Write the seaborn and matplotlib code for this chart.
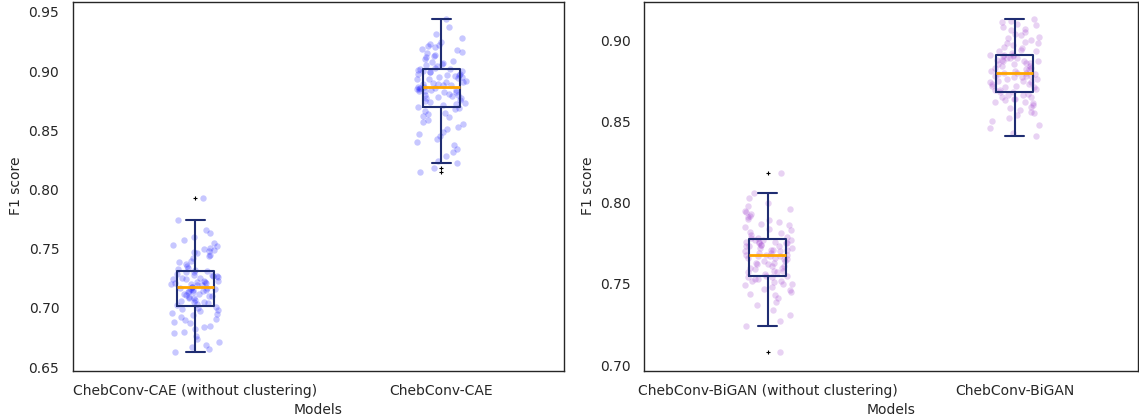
import numpy as np
import pandas as pd
import matplotlib
matplotlib.use("Agg")
import matplotlib.pyplot as plt
import seaborn as sns

# F1 scores per run, ChebConv autoencoder variants
cae_plain = [
    0.663, 0.665, 0.667, 0.669, 0.671, 0.674, 0.676, 0.679, 0.680, 0.682,
    0.684, 0.685, 0.687, 0.688, 0.690, 0.691, 0.692, 0.694, 0.695, 0.696,
    0.697, 0.698, 0.699, 0.700, 0.701, 0.702, 0.703, 0.704, 0.705, 0.705,
    0.706, 0.707, 0.708, 0.708, 0.709, 0.710, 0.710, 0.711, 0.712, 0.712,
    0.713, 0.713, 0.714, 0.714, 0.715, 0.715, 0.716, 0.716, 0.717, 0.717,
    0.718, 0.718, 0.719, 0.719, 0.720, 0.720, 0.721, 0.721, 0.722, 0.722,
    0.723, 0.723, 0.724, 0.724, 0.725, 0.725, 0.726, 0.727, 0.727, 0.728,
    0.728, 0.729, 0.730, 0.730, 0.731, 0.732, 0.733, 0.734, 0.735, 0.737,
    0.739, 0.740, 0.742, 0.744, 0.745, 0.746, 0.747, 0.748, 0.749, 0.750,
    0.751, 0.752, 0.753, 0.755, 0.757, 0.760, 0.763, 0.766, 0.774, 0.793,
]
cae_clustered = [
    0.815, 0.818, 0.822, 0.824, 0.828, 0.832, 0.834, 0.838, 0.840, 0.843,
    0.845, 0.847, 0.849, 0.851, 0.853, 0.855, 0.857, 0.859, 0.861, 0.862,
    0.864, 0.865, 0.866, 0.868, 0.869, 0.870, 0.871, 0.872, 0.873, 0.874,
    0.875, 0.876, 0.877, 0.877, 0.878, 0.879, 0.880, 0.880, 0.881, 0.882,
    0.882, 0.883, 0.883, 0.884, 0.884, 0.885, 0.885, 0.886, 0.886, 0.887,
    0.887, 0.888, 0.888, 0.889, 0.889, 0.890, 0.891, 0.891, 0.892, 0.893,
    0.893, 0.894, 0.895, 0.895, 0.896, 0.897, 0.897, 0.898, 0.898, 0.899,
    0.899, 0.900, 0.900, 0.901, 0.902, 0.902, 0.903, 0.904, 0.905, 0.906,
    0.907, 0.908, 0.909, 0.910, 0.912, 0.913, 0.914, 0.915, 0.916, 0.918,
    0.919, 0.920, 0.921, 0.922, 0.923, 0.925, 0.928, 0.931, 0.937, 0.944,
]

# F1 scores per run, ChebConv BiGAN variants
bigan_plain = [
    0.708, 0.724, 0.727, 0.731, 0.734, 0.737, 0.739, 0.741, 0.743, 0.744,
    0.745, 0.746, 0.747, 0.748, 0.749, 0.750, 0.750, 0.751, 0.752, 0.752,
    0.753, 0.753, 0.754, 0.754, 0.755, 0.755, 0.756, 0.757, 0.757, 0.758,
    0.758, 0.759, 0.760, 0.760, 0.761, 0.761, 0.762, 0.762, 0.763, 0.763,
    0.764, 0.764, 0.765, 0.765, 0.766, 0.766, 0.767, 0.767, 0.767, 0.768,
    0.768, 0.768, 0.769, 0.769, 0.770, 0.770, 0.771, 0.771, 0.771, 0.772,
    0.772, 0.773, 0.773, 0.773, 0.774, 0.774, 0.775, 0.775, 0.775, 0.776,
    0.776, 0.776, 0.777, 0.777, 0.777, 0.778, 0.778, 0.779, 0.780, 0.781,
    0.782, 0.783, 0.784, 0.785, 0.786, 0.787, 0.788, 0.789, 0.790, 0.791,
    0.792, 0.793, 0.794, 0.795, 0.796, 0.798, 0.800, 0.803, 0.806, 0.818,
]
bigan_clustered = [
    0.841, 0.843, 0.846, 0.848, 0.850, 0.852, 0.854, 0.855, 0.856, 0.857,
    0.858, 0.859, 0.860, 0.861, 0.862, 0.862, 0.863, 0.864, 0.864, 0.865,
    0.865, 0.866, 0.866, 0.867, 0.868, 0.868, 0.869, 0.869, 0.870, 0.871,
    0.871, 0.872, 0.872, 0.873, 0.873, 0.874, 0.874, 0.875, 0.875, 0.876,
    0.876, 0.877, 0.877, 0.878, 0.878, 0.878, 0.879, 0.879, 0.880, 0.880,
    0.880, 0.881, 0.881, 0.882, 0.882, 0.883, 0.883, 0.884, 0.884, 0.885,
    0.885, 0.886, 0.886, 0.887, 0.887, 0.887, 0.888, 0.888, 0.889, 0.889,
    0.889, 0.890, 0.890, 0.891, 0.891, 0.891, 0.892, 0.893, 0.893, 0.894,
    0.895, 0.896, 0.897, 0.898, 0.898, 0.899, 0.900, 0.901, 0.902, 0.903,
    0.904, 0.905, 0.906, 0.907, 0.908, 0.909, 0.910, 0.911, 0.912, 0.913,
]

cae_labels = ["ChebConv-CAE (without clustering)", "ChebConv-CAE"]
bigan_labels = ["ChebConv-BiGAN (without clustering)", "ChebConv-BiGAN"]


def to_frame(labels, groups):
    return pd.DataFrame({
        "Models": np.concatenate([[lab] * len(g) for lab, g in zip(labels, groups)]),
        "F1 score": np.concatenate(groups),
    })


cae_df = to_frame(cae_labels, [cae_plain, cae_clustered])
bigan_df = to_frame(bigan_labels, [bigan_plain, bigan_clustered])

sns.set_theme(style="white")
plt.rcParams["font.family"] = ["DejaVu Sans"]

W, H = 1139, 417
fig = plt.figure(figsize=(W / 100, H / 100), dpi=100)
ax_left = fig.add_axes([72.5 / W, 46.3 / H, 491.8 / W, 369 / H])
ax_right = fig.add_axes([644.3 / W, 46.3 / H, 493.7 / W, 369 / H])

box_color = "#1f2d72"
box_kws = dict(
    width=0.15,
    fill=False,
    color=box_color,
    linewidth=1.5,
    medianprops=dict(color="orange", linewidth=2.0),
    flierprops=dict(marker="+", markersize=3, markeredgecolor="black",
                    markeredgewidth=0.8),
    zorder=3,
)

np.random.seed(7)
for ax, df, order, point_color, ylim in [
    (ax_left, cae_df, cae_labels, "blue", (0.6469, 0.9587)),
    (ax_right, bigan_df, bigan_labels, "darkorchid", (0.6965, 0.9236)),
]:
    # jittered runs underneath, box summary drawn over them
    sns.stripplot(data=df, x="Models", y="F1 score", order=order, ax=ax,
                  color=point_color, alpha=0.22, size=4.6, jitter=0.1,
                  linewidth=0, zorder=1)
    sns.boxplot(data=df, x="Models", y="F1 score", order=order, ax=ax, **box_kws)
    ax.set_xlim(-0.5, 1.5)
    ax.set_ylim(*ylim)
    ax.tick_params(labelsize=10, colors=".15")
    ax.set_xlabel("Models", fontsize=10, color=".15")
    ax.set_ylabel("F1 score", fontsize=10, color=".15")
    for spine in ax.spines.values():
        spine.set_color(".15")
        spine.set_linewidth(1.0)

ax_left.set_yticks([0.65, 0.70, 0.75, 0.80, 0.85, 0.90, 0.95])
ax_right.set_yticks([0.70, 0.75, 0.80, 0.85, 0.90])

fig.savefig("out.png", dpi=100)
